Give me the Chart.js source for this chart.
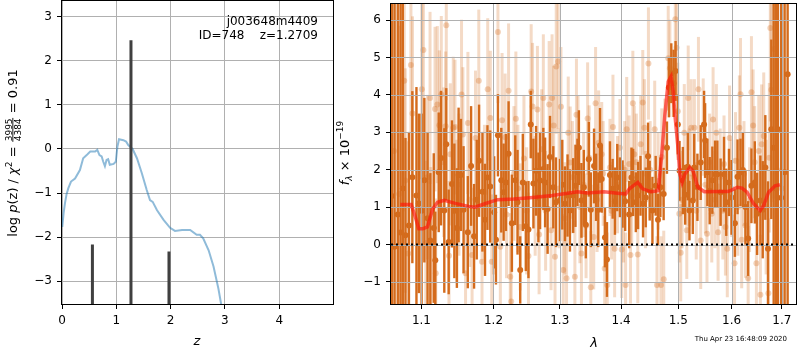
<!DOCTYPE html>
<html>
<head>
<meta charset="utf-8">
<script src="https://cdn.jsdelivr.net/npm/chart.js@4.4.0/dist/chart.umd.min.js"></script>
<style>
  body { margin: 0; background: #fff; }
  #wrap { position: relative; width: 800px; height: 350px; overflow: hidden; }
  canvas { position: absolute; top: 0; }
  #pz { left: 0; }
  #spec { left: 335px; }
  #stamp { position: absolute; right: 13px; top: 335px; font: 7px "DejaVu Sans"; color: #000; white-space: nowrap; }
</style>
</head>
<body>
<div id="wrap">
  <canvas id="pz" width="340" height="350"></canvas>
  <canvas id="spec" width="465" height="350"></canvas>
  <div id="stamp">Thu Apr 23 16:48:09 2020</div>
</div>
<script>
// ---- left panel: p(z) ----
const zGrid = [0.005, 0.03, 0.055, 0.085, 0.117, 0.166, 0.24, 0.33, 0.39, 0.47, 0.52, 0.61, 0.65, 0.69, 0.73, 0.76,
  0.79, 0.82, 0.85, 0.88, 0.95, 0.99, 1.02, 1.05, 1.13, 1.18, 1.22, 1.30, 1.38, 1.47, 1.56, 1.62, 1.67, 1.75,
  1.87, 1.99, 2.08, 2.21, 2.36, 2.48, 2.54, 2.60, 2.70, 2.79, 2.88, 2.93, 2.98];
const logPz = [-1.77, -1.45, -1.23, -1.02, -0.89, -0.74, -0.67, -0.48, -0.21, -0.12, -0.06, -0.06, -0.02, -0.14, -0.17, -0.29,
  -0.39, -0.25, -0.23, -0.36, -0.34, -0.29, 0.05, 0.22, 0.20, 0.17, 0.09, 0.0, -0.21, -0.55, -0.93, -1.16, -1.20, -1.39,
  -1.61, -1.79, -1.86, -1.84, -1.84, -1.95, -1.95, -2.03, -2.30, -2.67, -3.17, -3.52, -3.95];
const peakZ = [0.56, 1.27, 1.97];
const peakTop = [-2.17, 2.47, -2.33];
const zTicks = [0, 1, 2, 3, 4];
const pzTicks = [-3, -2, -1, 0, 1, 2, 3];

// ---- right panel: spectrum ----
const lamDark = [1.0613,1.0649,1.0690,1.0726,1.0755,1.0790,1.0835,1.0880,1.0934,1.0965,
  1.1002,1.1039,1.1082,1.1119,1.1165,1.1186,1.1232,1.1263,1.1308,1.1335,
  1.1368,1.1413,1.1446,1.1481,1.1505,1.1537,1.1574,1.1634,1.1680,1.1722,
  1.1760,1.1793,1.1841,1.1878,1.1913,1.1953,1.2010,1.2036,1.2065,1.2114,
  1.2148,1.2182,1.2221,1.2270,1.2320,1.2354,1.2394,1.2433,1.2478,1.2518,
  1.2553,1.2593,1.2634,1.2669,1.2695,1.2745,1.2772,1.2811,1.2848,1.2899,
  1.2941,1.3004,1.3040,1.3082,1.3123,1.3161,1.3213,1.3249,1.3281,1.3304,
  1.3345,1.3384,1.3416,1.3464,1.3497,1.3550,1.3583,1.3620,1.3648,1.3676,
  1.3730,1.3763,1.3813,1.3858,1.3896,1.3935,1.3980,1.4025,1.4069,1.4137,
  1.4177,1.4205,1.4251,1.4290,1.4332,1.4376,1.4423,1.4463,1.4492,1.4540,
  1.4597,1.4638,1.4680,1.4738,1.4797,1.4832,1.4875,1.4916,1.4952,1.4993,
  1.5024,1.5084,1.5127,1.5174,1.5205,1.5266,1.5292,1.5352,1.5413,1.5476,
  1.5495,1.5538,1.5581,1.5631,1.5682,1.5726,1.5788,1.5853,1.5896,1.5948,
  1.5998,1.6063,1.6114,1.6172,1.6218,1.6269,1.6322,1.6387,1.6454,1.6499,
  1.6565,1.6612,1.6664,1.6718,1.6785,1.6833,1.6880,1.6920,1.6987,1.7057,
  1.7119];
const fluxDark = [1.30,-0.06,0.80,0.32,1.50,0.25,0.51,1.80,1.31,1.10,
  0.90,1.72,0.70,0.11,0.44,-0.42,1.93,2.31,0.91,2.68,
  0.07,1.62,0.90,0.44,1.86,1.86,0.93,0.33,2.10,0.22,
  1.20,2.24,1.41,0.66,1.79,1.55,0.86,0.13,2.92,1.72,
  1.40,1.66,2.43,0.57,1.72,1.13,-0.68,1.66,0.49,0.40,
  3.21,1.63,1.97,1.26,1.71,2.02,1.66,0.95,2.34,1.53,
  1.13,1.19,1.60,1.09,1.31,0.91,1.31,1.57,1.93,2.59,
  1.18,1.53,0.53,2.28,0.93,2.10,1.53,0.93,2.65,1.75,
  0.19,-0.40,1.86,1.49,1.16,1.79,1.53,1.35,1.16,0.80,
  1.79,1.66,1.13,1.31,1.57,1.09,1.26,2.36,1.44,0.91,
  1.57,0.66,1.53,1.35,2.59,4.20,4.58,4.31,4.64,3.21,
  1.97,1.71,1.33,2.08,0.91,1.18,2.06,1.53,2.19,3.21,
  2.78,1.93,1.44,1.72,1.88,1.88,1.40,1.88,1.13,1.66,
  1.26,0.57,1.81,1.93,1.99,1.00,0.16,1.57,1.66,0.82,
  1.18,0.93,2.06,-0.11,3.08,2.59,1.50,3.08,1.25,1.93,
  4.55];
const errDark = [9,9,9,9,9,2.6,2.5,2.3,2.9,2.4,
  2.6,2.2,2.3,1.8,2.0,1.3,1.6,1.8,2.2,1.5,
  1.4,1.7,1.8,1.6,1.8,1.5,1.7,1.5,1.6,1.4,
  1.6,1.5,1.6,1.5,1.4,1.5,1.5,1.2,1.1,1.4,
  1.3,1.3,1.4,1.3,1.2,1.4,0.9,1.3,1.2,1.3,
  0.9,1.2,1.2,1.2,1.3,1.1,1.2,1.2,1.1,1.1,
  1.2,1.1,1.2,1.0,1.1,1.1,1.0,1.1,0.9,1.0,
  1.0,1.0,0.9,1.0,1.0,1.0,0.9,1.0,1.0,0.9,
  0.8,1.0,0.9,0.8,0.9,0.9,0.8,0.9,0.8,0.9,
  0.8,0.9,0.8,0.9,0.8,0.9,0.8,0.9,0.8,0.9,
  0.8,0.7,0.8,0.7,0.7,0.8,0.8,0.9,0.8,0.8,
  0.8,0.9,0.8,0.9,0.8,0.9,0.9,0.9,1.0,0.9,
  1.0,0.9,0.9,0.9,0.9,0.9,0.9,1.0,0.9,0.9,
  1.0,0.9,1.0,0.9,1.0,1.0,1.0,1.0,1.1,1.1,
  1.2,1.3,1.4,1.8,2.4,9,9,9,9,9,
  9];

const lamLight = [1.0640,1.0709,1.0774,1.0787,1.0826,1.0861,1.0882,1.1005,1.1026,1.1058,
  1.1080,1.1115,1.1125,1.1182,1.1192,1.1213,1.1240,1.1267,1.1300,1.1327,
  1.1335,1.1372,1.1390,1.1431,1.1455,1.1480,1.1510,1.1546,1.1565,1.1602,
  1.1635,1.1660,1.1694,1.1742,1.1789,1.1835,1.1870,1.1917,1.1955,1.1975,
  1.2000,1.2065,1.2100,1.2125,1.2170,1.2190,1.2221,1.2246,1.2260,1.2300,
  1.2329,1.2360,1.2394,1.2450,1.2490,1.2518,1.2559,1.2580,1.2620,1.2654,
  1.2680,1.2720,1.2745,1.2780,1.2835,1.2864,1.2880,1.2905,1.2926,1.2945,
  1.2975,1.2990,1.3019,1.3055,1.3080,1.3107,1.3134,1.3165,1.3200,1.3240,
  1.3265,1.3290,1.3320,1.3345,1.3380,1.3420,1.3445,1.3470,1.3497,1.3545,
  1.3575,1.3600,1.3625,1.3676,1.3700,1.3725,1.3768,1.3813,1.3840,1.3863,
  1.3891,1.3940,1.3980,1.4010,1.4040,1.4060,1.4076,1.4095,1.4137,1.4160,
  1.4180,1.4200,1.4225,1.4260,1.4285,1.4335,1.4371,1.4400,1.4420,1.4470,
  1.4500,1.4580,1.4620,1.4640,1.4691,1.4705,1.4740,1.4760,1.4820,1.4850,
  1.4947,1.4970,1.4993,1.5019,1.5045,1.5070,1.5110,1.5156,1.5182,1.5200,
  1.5237,1.5296,1.5330,1.5371,1.5413,1.5460,1.5500,1.5530,1.5580,1.5620,
  1.5645,1.5680,1.5707,1.5740,1.5780,1.5830,1.5853,1.5880,1.5916,1.5960,
  1.6000,1.6056,1.6075,1.6120,1.6150,1.6172,1.6195,1.6240,1.6269,1.6322,
  1.6350,1.6387,1.6420,1.6450,1.6485,1.6533,1.6565,1.6590,1.6632,1.6680,
  1.6725,1.6745,1.6765,1.6785,1.6833,1.6900,1.7000];
const fluxLight = [2.50,1.35,4.38,1.71,-0.24,4.80,3.50,4.15,5.20,0.04,
  1.80,3.92,0.07,3.62,-0.77,3.74,3.19,4.01,2.20,3.16,
  5.86,-0.30,2.41,3.12,3.14,0.90,1.60,4.01,2.94,-0.77,
  3.25,1.20,-0.28,2.85,4.38,-0.46,1.40,4.15,3.38,-0.46,
  1.00,5.68,-0.06,3.32,2.87,0.80,4.11,-0.86,-1.52,1.90,
  3.36,1.50,0.47,2.30,0.90,-0.31,4.09,3.69,1.30,3.61,
  0.27,2.55,3.92,0.90,3.74,0.38,3.92,3.18,-0.33,4.76,
  4.89,1.50,3.68,-0.68,0.70,-0.90,2.99,2.19,1.80,-0.86,
  3.47,2.59,1.00,-0.24,1.60,0.50,3.37,2.32,-1.14,0.20,
  3.78,1.20,2.72,2.41,1.90,-0.64,-1.08,2.06,0.90,3.14,
  -0.11,1.60,2.59,-0.13,0.82,2.00,-1.08,3.08,2.15,-0.28,
  1.30,3.78,2.41,2.20,-0.27,2.68,3.80,3.12,1.20,4.84,
  2.00,3.08,-1.08,1.70,-1.08,2.34,-0.93,2.60,4.98,4.71,
  6.02,5.26,3.56,0.82,-0.22,1.20,2.99,0.38,3.92,1.80,
  3.12,3.12,0.90,4.15,0.11,3.14,1.60,0.29,2.20,0.82,
  3.34,1.20,2.99,0.33,1.80,0.90,2.15,0.47,-0.11,2.85,
  1.50,-0.50,2.24,1.00,3.12,4.02,0.13,1.90,0.51,-0.90,
  1.20,4.07,3.18,2.20,-0.50,2.50,-1.34,2.68,2.90,1.00,
  -1.30,2.32,5.79,4.14,5.23,2.00,1.50];
const errLight = [6.0,4.5,3.5,3.0,3.0,2.8,2.6,2.4,2.2,2.2,
  2.2,2.3,2.0,2.2,2.0,2.1,2.0,2.1,2.0,2.0,
  2.0,2.0,1.9,1.9,1.8,1.9,1.9,2.0,1.8,1.8,
  1.9,1.8,1.8,1.8,1.9,1.8,1.8,1.9,1.8,1.8,
  1.8,1.9,1.8,1.8,1.7,1.7,1.8,1.7,1.6,1.8,
  1.8,1.7,1.7,1.7,1.7,1.7,1.8,1.7,1.6,1.7,
  1.6,1.6,1.7,1.6,1.7,1.6,1.7,1.6,1.6,1.8,
  1.8,1.6,1.6,1.5,1.5,1.5,1.5,1.5,1.5,1.5,
  1.5,1.4,1.5,1.5,1.4,1.4,1.5,1.4,1.5,1.4,
  1.5,1.4,1.4,1.4,1.4,1.4,1.4,1.3,1.3,1.4,
  1.3,1.3,1.3,1.3,1.3,1.3,1.4,1.4,1.3,1.3,
  1.3,1.4,1.3,1.3,1.3,1.3,1.4,1.3,1.3,1.5,
  1.3,1.3,1.3,1.3,1.3,1.3,1.3,1.3,1.4,1.3,
  1.5,1.4,1.3,1.3,1.3,1.3,1.3,1.3,1.4,1.3,
  1.3,1.3,1.3,1.4,1.3,1.3,1.3,1.3,1.3,1.3,
  1.4,1.3,1.3,1.3,1.3,1.3,1.3,1.3,1.3,1.4,
  1.3,1.3,1.3,1.3,1.4,1.5,1.3,1.4,1.4,1.4,
  1.4,1.5,1.5,1.5,1.5,1.5,1.6,1.6,1.7,1.8,
  2.0,2.0,2.5,3.0,4.0,6.0,6.0];

const lamModel = [1.0723,1.0865,1.092,1.0965,1.1017,1.108,1.115,1.1216,1.1307,1.146,1.1646,1.1735,1.1875,1.206,
  1.2296,1.2584,1.288,1.3124,1.3282,1.344,1.3715,1.394,1.408,1.414,1.4285,1.437,1.452,1.464,1.47,1.476,1.482,
  1.487,1.491,1.494,1.499,1.503,1.507,1.512,1.521,1.527,1.536,1.548,1.573,1.592,1.598,1.611,1.62,1.63,1.643,
  1.656,1.663,1.673,1.686,1.696];
const fluxModel = [1.07,1.07,0.73,0.42,0.42,0.47,0.95,1.13,1.18,1.10,1.02,1.00,1.09,1.20,
  1.22,1.26,1.31,1.37,1.41,1.38,1.41,1.37,1.35,1.49,1.66,1.49,1.41,1.44,2.32,3.47,4.36,
  4.49,4.09,3.47,2.68,1.88,1.66,1.88,2.06,1.97,1.53,1.41,1.42,1.42,1.44,1.53,1.51,1.40,1.09,
  0.91,1.04,1.40,1.57,1.60];
const lamTicks = [1.1, 1.2, 1.3, 1.4, 1.5, 1.6, 1.7];
const fluxTicks = [-1, 0, 1, 2, 3, 4, 5, 6];

const ORANGE = 'rgb(212,107,28)';
const ORANGE_LIGHT = 'rgba(212,107,28,0.25)';
const GRID = '#b0b0b0';
const FONT = '"DejaVu Sans"';

Chart.defaults.font.family = FONT;
Chart.defaults.font.size = 12;
Chart.defaults.color = '#000';

const minus = v => String(v).replace('-', '\u2212');

function axisCommon(ticks, fmt) {
  return {
    border: { display: false },
    afterBuildTicks: s => { s.ticks = ticks.map(v => ({ value: v })); },
    ticks: { callback: fmt, padding: 5, maxRotation: 0, autoSkip: false },
  };
}

// black box round the plot area
const framePlugin = {
  id: 'frame',
  afterDraw(chart) {
    const { ctx, chartArea: a } = chart;
    ctx.save();
    ctx.strokeStyle = '#000';
    ctx.lineWidth = 1;
    ctx.strokeRect(a.left - 0.5, a.top - 0.5, a.right - a.left + 1, a.bottom - a.top + 1);
    ctx.restore();
  }
};

// draws a row of text pieces, each [text, font, dy]
function drawPieces(ctx, pieces, x0) {
  let x = x0;
  pieces.forEach(p => {
    ctx.font = p[1];
    ctx.fillText(p[0], x, p[2]);
    x += ctx.measureText(p[0]).width;
  });
}
function piecesWidth(ctx, pieces) {
  return pieces.reduce((w, p) => { ctx.font = p[1]; return w + ctx.measureText(p[0]).width; }, 0);
}

const leftText = {
  id: 'leftText',
  afterDraw(chart) {
    const ctx = chart.ctx;
    ctx.save();
    ctx.fillStyle = '#000';
    ctx.textBaseline = 'alphabetic';
    ctx.font = '12px ' + FONT;
    ctx.textAlign = 'right';
    ctx.fillText('j003648m4409', 318, 25);
    ctx.fillText('ID=748    z=1.2709', 318, 39);
    ctx.textAlign = 'center';
    ctx.font = 'italic 13px ' + FONT;
    ctx.fillText('z', 197, 345);
    // y label, rotated
    ctx.textAlign = 'left';
    ctx.translate(17, 153);
    ctx.rotate(-Math.PI / 2);
    const n = '13px ' + FONT, it = 'italic 13px ' + FONT, sm = '9px ' + FONT;
    const before = [['log ', n, 0], ['p', it, 0], ['(z) / ', n, 0], ['\u03c7', it, 0], ['2', sm, -5], [' = ', n, 0]];
    const after = [[' = 0.91', n, 0]];
    ctx.font = sm;
    const fw = Math.max(ctx.measureText('3995').width, ctx.measureText('4384').width) + 2;
    const total = piecesWidth(ctx, before) + fw + piecesWidth(ctx, after);
    let x = -total / 2;
    drawPieces(ctx, before, x);
    x += piecesWidth(ctx, before);
    ctx.font = sm;
    ctx.textAlign = 'center';
    ctx.fillText('3995', x + fw / 2, -5.5);
    ctx.fillText('4384', x + fw / 2, 3.5);
    ctx.fillRect(x + 0.5, -4.6, fw - 1, 0.9);
    ctx.textAlign = 'left';
    drawPieces(ctx, after, x + fw);
    ctx.restore();
  }
};

new Chart(document.getElementById('pz'), {
  type: 'scatter',
  data: {
    datasets: [
      {
        data: zGrid.map((z, i) => ({ x: z, y: logPz[i] })),
        showLine: true, borderColor: 'rgba(31,119,180,0.5)', borderWidth: 2, pointRadius: 0, order: 2
      },
      {
        data: peakZ.flatMap((z, i) => [{ x: z, y: -4 }, { x: z, y: peakTop[i] }, { x: z, y: null }]),
        showLine: true, spanGaps: false, borderColor: '#404040', borderWidth: 3, pointRadius: 0, order: 1
      }
    ]
  },
  options: {
    responsive: false, animation: false, devicePixelRatio: 1,
    layout: { padding: { left: 0, right: 7, top: 1, bottom: 0 } },
    plugins: { legend: { display: false }, tooltip: { enabled: false } },
    scales: {
      x: Object.assign(axisCommon(zTicks, v => minus(v)), {
        type: 'linear', min: 0, max: 4.99,
        grid: { color: GRID, lineWidth: 1, tickColor: '#000', tickLength: 5 },
        afterFit: s => { s.height = 46; s.paddingLeft = 0; s.paddingRight = 0; }
      }),
      y: Object.assign(axisCommon(pzTicks, v => minus(v)), {
        type: 'linear', min: -3.52, max: 3.36,
        grid: { color: GRID, lineWidth: 1, tickColor: '#000', tickLength: 5 },
        afterFit: s => { s.width = 62; s.paddingTop = 0; s.paddingBottom = 0; }
      })
    }
  },
  plugins: [framePlugin, leftText]
});

// ---- right chart helpers ----
function drawGridOver(chart) {
  const { ctx, chartArea: a, scales: { x, y } } = chart;
  ctx.save();
  ctx.strokeStyle = GRID;
  ctx.lineWidth = 1;
  x.ticks.forEach(t => {
    const px = Math.round(x.getPixelForValue(t.value)) + 0.5;
    ctx.beginPath(); ctx.moveTo(px, a.top); ctx.lineTo(px, a.bottom); ctx.stroke();
  });
  y.ticks.forEach(t => {
    const py = Math.round(y.getPixelForValue(t.value)) + 0.5;
    ctx.beginPath(); ctx.moveTo(a.left, py); ctx.lineTo(a.right, py); ctx.stroke();
  });
  ctx.restore();
}

const errPlugin = {
  id: 'errbars',
  beforeDatasetDraw(chart, args) {
    const ds = chart.data.datasets[args.index];
    if (!ds.errs) return;
    const { ctx, chartArea: a, scales: { x, y } } = chart;
    ctx.save();
    ctx.beginPath();
    ctx.rect(a.left, a.top, a.right - a.left, a.bottom - a.top);
    ctx.clip();
    ctx.strokeStyle = ds.errColor;
    ctx.lineWidth = ds.errWidth;
    ds.data.forEach((p, i) => {
      const px = x.getPixelForValue(p.x);
      ctx.beginPath();
      ctx.moveTo(px, y.getPixelForValue(p.y - ds.errs[i]));
      ctx.lineTo(px, y.getPixelForValue(p.y + ds.errs[i]));
      ctx.stroke();
    });
    ctx.restore();
  },
  afterDatasetDraw(chart, args) {
    if (chart.data.datasets[args.index].gridAfter) drawGridOver(chart);
  }
};

const rightText = {
  id: 'rightText',
  afterDraw(chart) {
    const ctx = chart.ctx;
    ctx.save();
    ctx.fillStyle = '#000';
    ctx.textBaseline = 'alphabetic';
    ctx.textAlign = 'center';
    ctx.font = 'italic 13px ' + FONT;
    ctx.fillText('\u03bb', 259, 347);
    ctx.textAlign = 'left';
    ctx.translate(13.5, 153);
    ctx.rotate(-Math.PI / 2);
    const pieces = [['f', 'italic 13px ' + FONT, 0], ['\u03bb', 'italic 9px ' + FONT, 3],
      [' \u00d7 10', '13px ' + FONT, 0], ['\u221219', '9px ' + FONT, -5.5]];
    drawPieces(ctx, pieces, -piecesWidth(ctx, pieces) / 2);
    ctx.restore();
  }
};

const X_MIN = 1.0603, X_MAX = 1.7293;

new Chart(document.getElementById('spec'), {
  type: 'scatter',
  data: {
    datasets: [
      {
        data: lamLight.map((l, i) => ({ x: l, y: fluxLight[i] })),
        errs: errLight, errColor: ORANGE_LIGHT, errWidth: 3,
        pointRadius: 3, pointBorderWidth: 0, backgroundColor: 'rgba(212,107,28,0.3)', order: 4
      },
      {
        data: lamDark.map((l, i) => ({ x: l, y: fluxDark[i] })),
        errs: errDark, errColor: ORANGE, errWidth: 2.4, gridAfter: true,
        pointRadius: 3, pointBorderWidth: 0, backgroundColor: ORANGE, order: 3
      },
      {
        data: lamModel.map((l, i) => ({ x: l, y: fluxModel[i] })),
        showLine: true, borderColor: 'rgba(255,20,10,0.65)', borderWidth: 3.5, pointRadius: 0, order: 2
      },
      {
        data: [{ x: X_MIN, y: 0 }, { x: X_MAX, y: 0 }],
        showLine: true, borderColor: '#000', borderWidth: 2, borderDash: [2, 3], pointRadius: 0, order: 1
      }
    ]
  },
  options: {
    responsive: false, animation: false, devicePixelRatio: 1,
    layout: { padding: { left: 0, right: 1, top: 1, bottom: 0 } },
    plugins: { legend: { display: false }, tooltip: { enabled: false } },
    scales: {
      x: Object.assign(axisCommon(lamTicks, v => Number(v).toFixed(1)), {
        type: 'logarithmic', min: X_MIN, max: X_MAX, bounds: 'data',
        grid: { drawOnChartArea: false, tickColor: '#000', tickLength: 5 },
        afterFit: s => { s.height = 46; s.paddingLeft = 0; s.paddingRight = 0; }
      }),
      y: Object.assign(axisCommon(fluxTicks, v => minus(v)), {
        type: 'linear', min: -1.59, max: 6.43,
        grid: { drawOnChartArea: false, tickColor: '#000', tickLength: 5 },
        afterFit: s => { s.width = 56; s.paddingTop = 0; s.paddingBottom = 0; }
      })
    }
  },
  plugins: [errPlugin, framePlugin, rightText]
});
</script>
</body>
</html>
